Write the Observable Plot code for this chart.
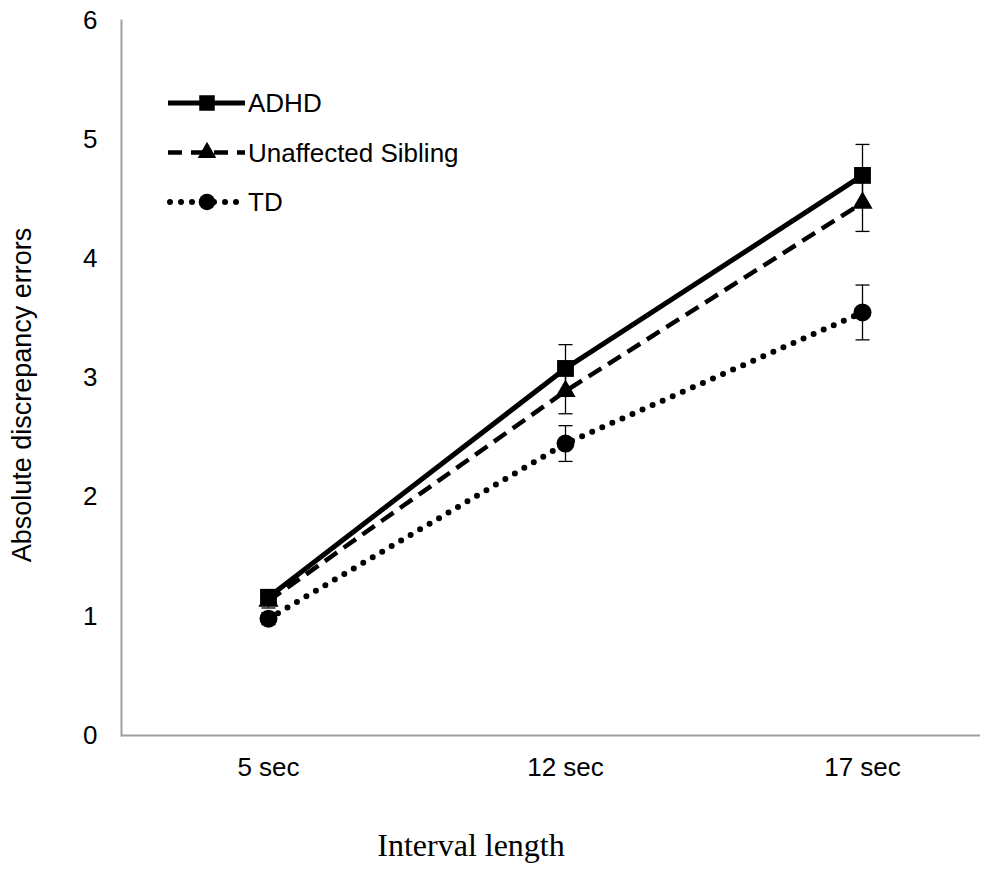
<!DOCTYPE html>
<html>
<head>
<meta charset="utf-8">
<script src="https://cdn.jsdelivr.net/npm/d3@7"></script>
<script src="https://cdn.jsdelivr.net/npm/@observablehq/plot@0.6"></script>
<style>
  html, body { margin: 0; padding: 0; background: #fff; }
  #chart { width: 996px; height: 871px; }
</style>
</head>
<body>
<div id="chart"></div>
<script>
// ---- data ----
const categories = ["5 sec", "12 sec", "17 sec"];
const groups = ["ADHD", "Unaffected Sibling", "TD"];
const adhd = [1.16, 3.08, 4.70];
const sibling = [1.13, 2.89, 4.47];
const td = [0.98, 2.45, 3.55];
const adhdErr = [0.06, 0.20, 0.26];
const siblingErr = [0.06, 0.19, 0.24];
const tdErr = [0.05, 0.15, 0.23];
const yTicks = [0, 1, 2, 3, 4, 5, 6];
const yLabel = "Absolute discrepancy errors";
const xLabel = "Interval length";

// ---- styles per series ----
const styles = {
  "ADHD": {symbol: "square", r: 9.5, strokeWidth: 5, dash: null, cap: "butt"},
  "Unaffected Sibling": {symbol: "triangle", r: 7.5, strokeWidth: 4.5, dash: "15,8", cap: "butt"},
  "TD": {symbol: "circle", r: 9, strokeWidth: 6, dash: "0,11", cap: "round"}
};

const seriesValues = [adhd, sibling, td];
const seriesErrors = [adhdErr, siblingErr, tdErr];
const rows = [];
groups.forEach((g, gi) => {
  categories.forEach((c, ci) => {
    rows.push({group: g, cat: c, value: seriesValues[gi][ci], err: seriesErrors[gi][ci]});
  });
});

const capSymbol = {
  draw(ctx) { ctx.moveTo(-7, 0); ctx.lineTo(7, 0); }
};

const marks = [];
// axes lines
marks.push(Plot.frame({anchor: "left", stroke: "#a0a0a0", strokeWidth: 2}));
marks.push(Plot.ruleY([0], {stroke: "#a0a0a0", strokeWidth: 2}));
marks.push(Plot.axisY({ticks: yTicks, tickFormat: d3.format("d"), tickSize: 0, tickPadding: 24, label: null, fontSize: 26}));
marks.push(Plot.axisX({tickSize: 0, tickPadding: 22, label: null, fontSize: 26}));

// lines
groups.forEach(g => {
  const s = styles[g];
  marks.push(Plot.line(rows.filter(d => d.group === g), {
    x: "cat", y: "value", stroke: "black", strokeWidth: s.strokeWidth,
    strokeDasharray: s.dash, strokeLinecap: s.cap
  }));
});
// error bars
marks.push(Plot.ruleX(rows, {x: "cat", y1: d => d.value - d.err, y2: d => d.value + d.err, stroke: "black", strokeWidth: 1.3}));
marks.push(Plot.dot(rows, {x: "cat", y: d => d.value + d.err, symbol: capSymbol, stroke: "black", strokeWidth: 1.3, fill: "none"}));
marks.push(Plot.dot(rows, {x: "cat", y: d => d.value - d.err, symbol: capSymbol, stroke: "black", strokeWidth: 1.3, fill: "none"}));
// markers
groups.forEach(g => {
  const s = styles[g];
  marks.push(Plot.dot(rows.filter(d => d.group === g), {
    x: "cat", y: "value", symbol: s.symbol, r: s.r, fill: "black", stroke: "none"
  }));
});
// axis titles
marks.push(Plot.text([yLabel], {text: d => d, frameAnchor: "left", textAnchor: "middle", rotate: -90, dx: -99, dy: 17, fontSize: 27, fill: "black"}));
marks.push(Plot.text([xLabel], {text: d => d, frameAnchor: "bottom", textAnchor: "middle", dy: 120, dx: -80, fontSize: 32, fontFamily: "Liberation Serif, Times New Roman, serif", fill: "black"}));

const chart = Plot.plot({
  width: 996,
  height: 871,
  marginLeft: 121,
  marginRight: 16,
  marginTop: 20,
  marginBottom: 136,
  style: {fontFamily: "Liberation Sans, Arial, sans-serif", fontSize: "26px", color: "black", background: "white", overflow: "visible"},
  x: {type: "point", domain: categories, range: [268, 862], padding: 0},
  y: {domain: [0, 6]},
  marks
});
document.getElementById("chart").appendChild(chart);

// ---- legend (inside plot area, top-left) ----
const svg = d3.select(chart);
const leg = svg.append("g").attr("transform", "translate(168,103)");
groups.forEach((g, i) => {
  const s = styles[g];
  const row = leg.append("g").attr("transform", `translate(0,${i * 49.5})`);
  row.append("line").attr("x1", 0).attr("x2", 77).attr("y1", 0).attr("y2", 0)
    .attr("stroke", "black").attr("stroke-width", s.strokeWidth)
    .attr("stroke-dasharray", g === "Unaffected Sibling" ? "14,9" : s.dash)
    .attr("stroke-dashoffset", g === "TD" ? -2 : 0)
    .attr("stroke-linecap", s.cap);
  const sym = {square: d3.symbolSquare, triangle: d3.symbolTriangle, circle: d3.symbolCircle}[s.symbol];
  row.append("path").attr("transform", "translate(39,0)")
    .attr("d", d3.symbol(sym, Math.PI * s.r * s.r * 0.85)())
    .attr("fill", "black");
  row.append("text").attr("x", 80).attr("y", 0).attr("dy", "0.35em")
    .attr("text-anchor", "start")
    .attr("font-size", 26).attr("fill", "black").text(g);
});
</script>
</body>
</html>
